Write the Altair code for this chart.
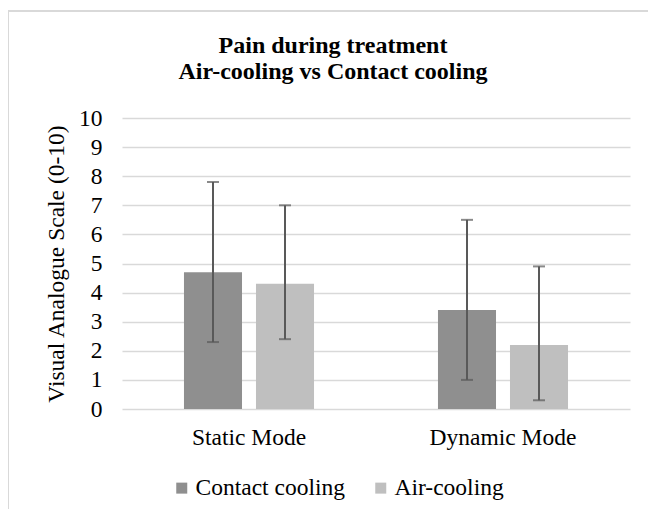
import altair as alt
import pandas as pd

modes = ["Static Mode", "Static Mode", "Dynamic Mode", "Dynamic Mode"]
series = ["Contact cooling", "Air-cooling", "Contact cooling", "Air-cooling"]
means = [4.7, 4.3, 3.4, 2.2]
err_low = [2.3, 2.4, 1.0, 0.3]
err_high = [7.8, 7.0, 6.5, 4.9]

mode_order = ["Static Mode", "Dynamic Mode"]
series_order = ["Contact cooling", "Air-cooling"]
colors = ["#8f8f8f", "#bfbfbf"]
y_ticks = list(range(0, 11))
title_text = "Pain during treatment\nAir-cooling vs Contact cooling"
y_title = "Visual Analogue Scale (0-10)"

df = pd.DataFrame({"mode": modes, "series": series, "mean": means,
                   "lo": err_low, "hi": err_high})
df_title = pd.DataFrame({"t": [title_text]})

FONT = "Times New Roman"

x_scale = alt.Scale(paddingInner=0.488, paddingOuter=0.244)
y_scale = alt.Scale(domain=[0, 10], nice=False)
x_axis = alt.Axis(labelAngle=0, labelFont=FONT, labelFontSize=23.5,
                  labelColor="#000000", labelPadding=16,
                  ticks=False, domain=False, grid=False)
y_axis = alt.Axis(values=y_ticks, labelOverlap=False,
                  labelFont=FONT, labelFontSize=23.5, labelColor="#000000",
                  labelPadding=20, ticks=False, domain=False,
                  gridColor="#d9d9d9", gridWidth=1.3,
                  titleFont=FONT, titleFontSize=23.5, titleFontWeight="normal",
                  titleColor="#000000", titlePadding=10)
xo_enc = alt.XOffset("series:N", sort=series_order,
                     scale=alt.Scale(paddingInner=0.194, paddingOuter=0))


def xe():
    return alt.X("mode:N", sort=mode_order, title=None, scale=x_scale, axis=x_axis)


def ye(field):
    return alt.Y(field, title=y_title, scale=y_scale, axis=y_axis)


bars = alt.Chart(df).mark_bar().encode(
    x=xe(),
    xOffset=xo_enc,
    y=ye("mean:Q"),
    color=alt.Color("series:N", sort=series_order,
                    scale=alt.Scale(domain=series_order, range=colors),
                    legend=alt.Legend(title=None, orient="none", direction="horizontal",
                                      legendX=48, legendY=358,
                                      symbolType="square", symbolSize=121,
                                      symbolStrokeWidth=0, labelFont=FONT,
                                      labelFontSize=23.5, labelColor="#000000",
                                      labelOffset=2, columnPadding=24)),
)

rules = alt.Chart(df).mark_rule(color="#595959", strokeWidth=2).encode(
    x=xe(), xOffset=xo_enc, y=ye("lo:Q"), y2="hi:Q",
)
caps_hi = alt.Chart(df).mark_tick(color="#595959", thickness=2, size=12).encode(
    x=xe(), xOffset=xo_enc, y=ye("hi:Q"),
)
caps_lo = alt.Chart(df).mark_tick(color="#595959", thickness=2, size=12).encode(
    x=xe(), xOffset=xo_enc, y=ye("lo:Q"),
)

frame_top = alt.Chart(df).mark_rule(color="#d9d9d9", strokeWidth=1.5).encode(
    x=alt.value(-114), x2=alt.value(540), y=alt.value(-107))
frame_left = alt.Chart(df).mark_rule(color="#d9d9d9", strokeWidth=1.5).encode(
    x=alt.value(-114), y=alt.value(-107), y2=alt.value(420))

title = alt.Chart(df_title).mark_text(
    font=FONT, fontSize=24, fontWeight="bold", color="#000000",
    align="center", baseline="alphabetic", lineBreak="\n", lineHeight=26,
).encode(text="t:N", x=alt.value(211), y=alt.value(-65))

chart = alt.layer(frame_top, frame_left, bars, rules, caps_hi, caps_lo, title).properties(
    width=508, height=291,
    padding={"left": 114, "top": 110, "right": 18, "bottom": 100},
    autosize=alt.AutoSizeParams(type="none"),
).configure_view(stroke=None)

chart.save("out.html", embed_options={"renderer": "svg", "actions": False})
